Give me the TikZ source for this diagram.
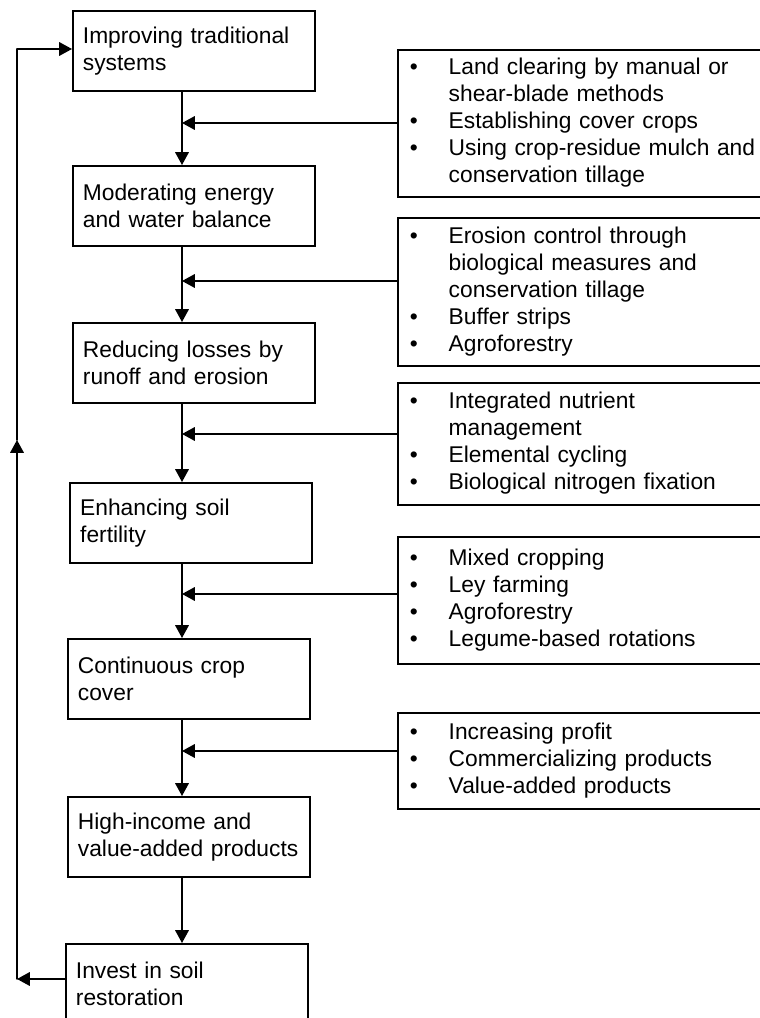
\documentclass[tikz,border=0pt]{standalone}
\usepackage{fontspec}
\setmainfont{Liberation Sans}
\usetikzlibrary{arrows.meta}

\begin{document}
\begin{tikzpicture}[x=0.025cm,y=-0.025cm,line cap=round]
% Styles
\tikzstyle{stage box}=[draw,line width=1.3pt,anchor=north west,text width=5.55cm,
  inner xsep=0.25cm,inner ysep=0.1cm,minimum height=2cm,align=left]
\tikzstyle{practice box}=[draw,line width=1.3pt,anchor=west,text width=8.6cm,
  inner xsep=0.3cm,inner ysep=0.1cm]
\tikzstyle{arr}=[line width=1pt,-{Triangle[length=0.32cm,width=0.34cm]}]

\clip (0,0) rectangle (760,1018);
\fontsize{16.2}{19.2}\selectfont

% the stages down the left
\node[stage box] (b1) at (72,10) {Improving traditional\\ systems};
\node[stage box] (b2) at (72,165) {Moderating energy\\ and water balance};
\node[stage box] (b3) at (72,322) {Reducing losses by\\ runoff and erosion};
\node[stage box,line width=1.7pt] (b4) at (69,482) {Enhancing soil\\ fertility};
\node[stage box] (b5) at (67,638) {Continuous crop\\ cover};
\node[stage box] (b6) at (67,796) {High-income and\\ value-added products};
\node[stage box] (b7) at (65,943) {Invest in soil\\ restoration};

% the practices on the right
\node[practice box,minimum height=3.68cm] (r1) at (397,123.5) {%
\begin{tabular}{@{}p{0.97cm}@{}l@{}}
\textbullet & Land clearing by manual or\\
 & shear-blade methods\\
\textbullet & Establishing cover crops\\
\textbullet & Using crop-residue mulch and\\
 & conservation tillage
\end{tabular}};
\node[practice box,minimum height=3.7cm] (r2) at (397,292) {%
\begin{tabular}{@{}p{0.97cm}@{}l@{}}
\textbullet & Erosion control through\\
 & biological measures and\\
 & conservation tillage\\
\textbullet & Buffer strips\\
\textbullet & Agroforestry
\end{tabular}};
\node[practice box,minimum height=3.05cm] (r3) at (397,444) {%
\begin{tabular}{@{}p{0.97cm}@{}l@{}}
\textbullet & Integrated nutrient\\
 & management\\
\textbullet & Elemental cycling\\
\textbullet & Biological nitrogen fixation
\end{tabular}};
\node[practice box,minimum height=3.175cm] (r4) at (397,600.5) {%
\begin{tabular}{@{}p{0.97cm}@{}l@{}}
\textbullet & Mixed cropping\\
\textbullet & Ley farming\\
\textbullet & Agroforestry\\
\textbullet & Legume-based rotations
\end{tabular}};
\node[practice box,minimum height=2.4cm] (r5) at (397,761) {%
\begin{tabular}{@{}p{0.97cm}@{}l@{}}
\textbullet & Increasing profit\\
\textbullet & Commercializing products\\
\textbullet & Value-added products
\end{tabular}};

% main line from stage to stage
\coordinate (spine) at (182,0);
\foreach \a/\b in {b1/b2,b2/b3,b3/b4,b4/b5,b5/b6,b6/b7} {
\draw[arr] (\a.south -| spine) -- (\b.north -| spine);
}

% practices feeding into the main line
\foreach \r/\y in {r1/123,r2/281,r3/434,r4/594,r5/751} {
\coordinate (j\r) at (182,\y);
\draw[arr] (\r.west |- j\r) -- (j\r);
}

% loop back to the top
\coordinate (c1) at (17,979);
\coordinate (c2) at (17,440);
\coordinate (c3) at (17,49);
\draw[arr] (b7.west |- c1) -- (c1);
\draw[arr] (c1) -- (c2);
\draw[line width=1pt] (c2) -- (c3);
\draw[arr] (c3) -- (b1.west |- c3);

\end{tikzpicture}
\end{document}
